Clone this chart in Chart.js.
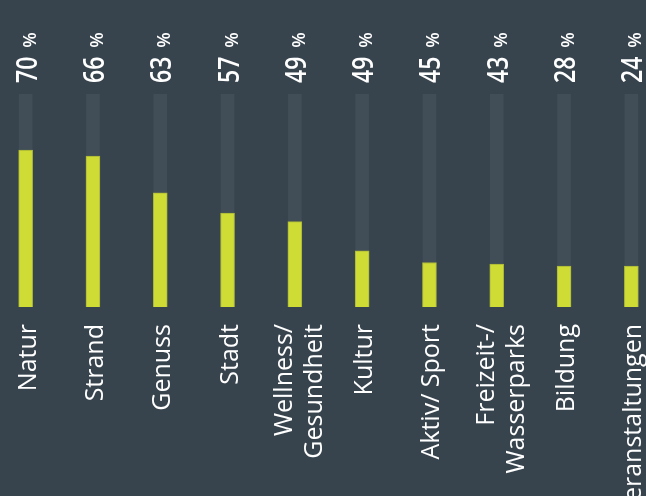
<!DOCTYPE html>
<html><head><meta charset="utf-8">
<script src="https://cdn.jsdelivr.net/npm/chart.js@4"></script>
<style>
html,body{margin:0;padding:0;background:#37444e;overflow:hidden;width:646px;height:496px}
#wrap{position:absolute;left:-8px;top:0;width:673px;height:496px}
</style></head><body>
<div id="wrap"><canvas id="c" width="673" height="496"></canvas></div>
<script>
const categories = [["Natur"],["Strand"],["Genuss"],["Stadt"],["Wellness/","Gesundheit"],["Kultur"],["Aktiv/ Sport"],["Freizeit-/","Wasserparks"],["Bildung"],["Veranstaltungen"]];
const percentLabels = [70, 66, 63, 57, 49, 49, 45, 43, 28, 24];
const barValues = [73.7, 70.8, 53.6, 44.1, 40.1, 26.4, 20.9, 20.2, 19.2, 19.2];
const trackValues = [100, 100, 100, 100, 100, 100, 100, 100, 100, 100];

const textPlugin = {
  id: 'textLabels',
  afterDraw(chart) {
    const ctx = chart.ctx, xs = chart.scales.x;
    ctx.save();
    ctx.fillStyle = '#ffffff';
    categories.forEach((lines, i) => {
      const px = xs.getPixelForValue(i);
      const n = lines.length;
      lines.forEach((line, j) => {
        const off = n === 1 ? 1.5 : 4 + (j - (n - 1) / 2) * 30;
        ctx.save();
        ctx.translate(px + off + 8.5, 324);
        ctx.rotate(-Math.PI / 2);
        ctx.font = '400 25px "Open Sans"';
        ctx.textAlign = 'right';
        ctx.textBaseline = 'alphabetic';
        ctx.fillText(line, 0, 0);
        ctx.restore();
      });
      const num = String(percentLabels[i]);
      ctx.save();
      ctx.translate(px + 11, 83);
      ctx.rotate(-Math.PI / 2);
      ctx.textAlign = 'left';
      ctx.textBaseline = 'alphabetic';
      ctx.font = '600 23px "Open Sans"';
      const w = ctx.measureText(num).width;
      ctx.save();
      ctx.scale(1, 1.25);
      ctx.fillText(num, 0, 0);
      ctx.restore();
      ctx.font = '600 18px "Open Sans"';
      ctx.fillText('%', w + 9, -1);
      ctx.restore();
    });
    ctx.restore();
  }
};

new Chart(document.getElementById('c'), {
  type: 'bar',
  data: {
    labels: categories,
    datasets: [
      {
        data: barValues,
        backgroundColor: '#cfdc36',
        borderColor: '#a9b536',
        borderWidth: 1,
        barThickness: 14,
        grouped: false,
        order: 1
      },
      {
        data: trackValues,
        backgroundColor: '#414d57',
        borderWidth: 0,
        barThickness: 13,
        grouped: false,
        order: 2
      }
    ]
  },
  options: {
    responsive: false,
    animation: false,
    layout: { padding: { top: 94, bottom: 189, left: 0, right: 0 } },
    plugins: { legend: { display: false }, tooltip: { enabled: false } },
    scales: {
      x: {
        display: true,
        grid: { display: false, drawTicks: false },
        border: { display: false },
        ticks: { display: false }
      },
      y: {
        display: false,
        min: 0,
        max: 100
      }
    }
  },
  plugins: [textPlugin]
});
</script>
</body></html>
